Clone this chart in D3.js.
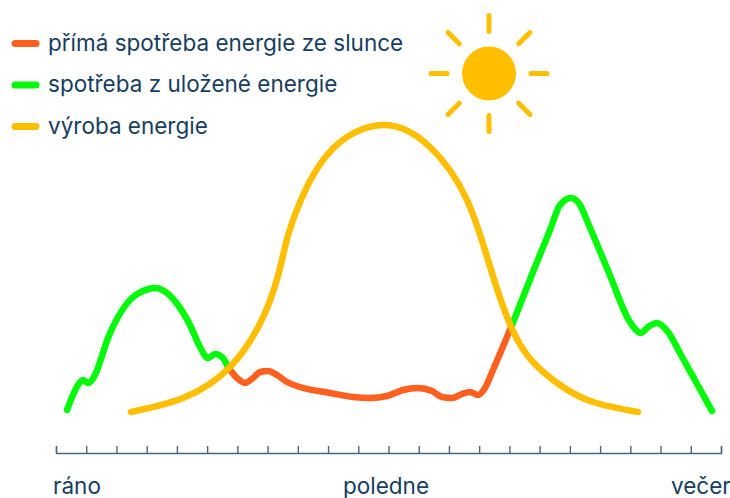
<!DOCTYPE html>
<html lang="cs">
<head>
    <meta charset="UTF-8">
    <title>Spotřeba a výroba energie</title>
    <style>
        html, body { margin: 0; padding: 0; background: #fff; }
        svg { display: block; }
        text { font-family: "Inter", sans-serif; fill: #173d5f; }
    </style>
    <script src="https://d3js.org/d3.v7.min.js"></script>
</head>
<body>
    <div id="svg"></div>
    <script>
        // time runs 0..665 over the day, value is in relative units
        const morningTime = [11, 17, 22, 27, 32, 39, 44, 52, 62, 76, 87, 99, 111, 122, 134, 144, 152, 159, 166, 172];
        const morningValue = [43, 58, 68, 73, 70, 78, 91, 115, 136, 155, 162, 165, 160, 148, 128, 106, 95, 99, 96, 86];

        const directTime = [172, 181, 189, 197, 204, 212, 221, 231, 244, 274, 297, 314, 331, 347, 362, 376, 386, 396, 406, 414, 422, 429, 437, 456];
        const directValue = [86, 75, 70, 75, 81, 82, 78, 71, 66, 60, 56, 55, 57, 63, 65, 62, 56, 55, 59, 61, 58, 65, 83, 128];

        const eveningTime = [456, 477, 494, 504, 515, 524, 532, 553, 574, 585, 592, 601, 612, 625, 640, 656];
        const eveningValue = [128, 181, 223, 248, 255, 248, 230, 180, 131, 120, 126, 130, 121, 98, 71, 42];

        const productionTime = [75, 127, 174, 209, 226, 236, 271, 327, 374, 411, 436, 457, 477, 504, 537, 582];
        const productionValue = [41, 55, 86, 140, 193, 230, 298, 328, 306, 253, 180, 122, 91, 68, 51, 41];

        const legendLabels = ["přímá spotřeba energie ze slunce", "spotřeba z uložené energie", "výroba energie"];
        const legendColors = ["#ff5f1f", "#05f90a", "#ffbe00"];
        const dayLabels = ["ráno", "poledne", "večer"];
        const tickCount = 22;
        const rayAngles = [0, 45, 90, 135, 180, 225, 270, 315];

        const boxWidth = 730, boxHeight = 498;
        const svg = d3.select("#svg").append("svg").attr("width", boxWidth).attr("height", boxHeight);

        const xScale = d3.scaleLinear().domain([0, 665]).range([56, 721]);
        const yScale = d3.scaleLinear().domain([0, 330]).range([453, 123]);

        const line = d3.line()
            .x(d => xScale(d[0]))
            .y(d => yScale(d[1]));

        const xAxis = d3.axisTop(xScale)
            .tickValues(d3.range(tickCount + 1).map(i => i * 665 / tickCount))
            .tickFormat("")
            .tickSize(7);
        const axisG = svg.append("g").attr("transform", "translate(0, 453)").call(xAxis);
        axisG.selectAll("path, line").attr("stroke", "#4b6580").attr("stroke-width", 1.4);

        const series = [
            { t: directTime, v: directValue, color: legendColors[0], curve: d3.curveMonotoneX },
            { t: morningTime, v: morningValue, color: legendColors[1], curve: d3.curveMonotoneX },
            { t: eveningTime, v: eveningValue, color: legendColors[1], curve: d3.curveMonotoneX },
            { t: productionTime, v: productionValue, color: legendColors[2], curve: d3.curveNatural }
        ];
        svg.selectAll(".curve").data(series).enter().append("path")
            .attr("class", "curve")
            .attr("fill", "none")
            .attr("stroke", d => d.color)
            .attr("stroke-width", 6.5)
            .attr("stroke-linecap", "round")
            .attr("stroke-linejoin", "round")
            .attr("d", d => line.curve(d.curve)(d3.zip(d.t, d.v)));

        // legend
        const legendY = [43.5, 85, 126.5];
        const legend = svg.selectAll(".legend").data(legendLabels).enter().append("g")
            .attr("class", "legend")
            .attr("transform", (d, i) => `translate(0, ${legendY[i]})`);
        legend.append("line")
            .attr("x1", 15).attr("x2", 36)
            .attr("stroke", (d, i) => legendColors[i])
            .attr("stroke-width", 7)
            .attr("stroke-linecap", "round");
        legend.append("text")
            .attr("x", 48).attr("y", 7)
            .attr("font-size", 22.5)
            .text(d => d);

        // labels under the axis
        const dayX = [53, 343, 671];
        svg.selectAll(".day").data(dayLabels).enter().append("text")
            .attr("class", "day")
            .attr("x", (d, i) => dayX[i])
            .attr("y", 494)
            .attr("font-size", 22.5)
            .text(d => d);

        // sun
        const sun = svg.append("g").attr("transform", "translate(489, 73.5)");
        sun.append("circle").attr("r", 27).attr("fill", "#ffbe00");
        sun.selectAll(".ray").data(rayAngles).enter().append("line")
            .attr("class", "ray")
            .attr("x1", 42).attr("x2", 58)
            .attr("transform", d => `rotate(${d})`)
            .attr("stroke", "#ffbe00")
            .attr("stroke-width", 5)
            .attr("stroke-linecap", "round");
    </script>
</body>
</html>
